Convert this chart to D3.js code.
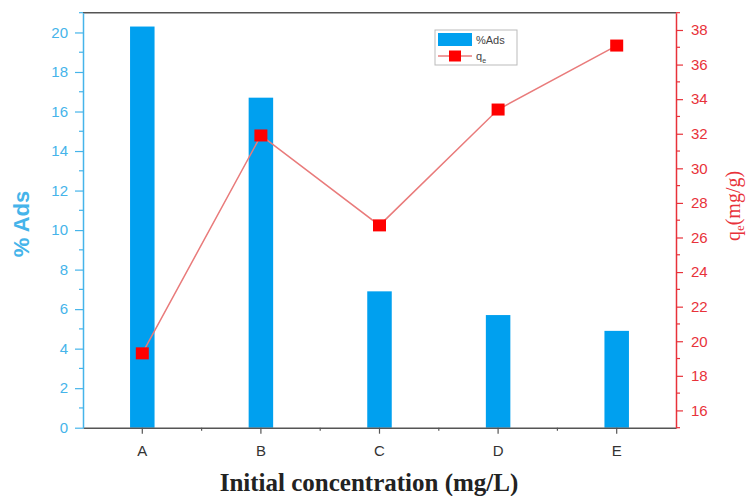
<!DOCTYPE html>
<html>
<head>
<meta charset="utf-8">
<script src="https://cdn.jsdelivr.net/npm/d3@7"></script>
<style>
  body { margin: 0; background: #fff; }
</style>
</head>
<body>
<svg id="chart"></svg>
<script>
// chart data
const categories = ["A", "B", "C", "D", "E"];
const adsValues = [20.3, 16.7, 6.9, 5.7, 4.9];
const qeValues = [19.3, 31.9, 26.7, 33.4, 37.1];
const leftTicks = [0, 2, 4, 6, 8, 10, 12, 14, 16, 18, 20];
const rightTicks = [16, 18, 20, 22, 24, 26, 28, 30, 32, 34, 36, 38];

const width = 747, height = 496;
const plotLeft = 83, plotRight = 676, plotTop = 12.7, plotBottom = 427.7;
const blue = "#00a0ef", blueText = "#45b4ea";
const red = "#e8323a";

const svg = d3.select("#chart").attr("width", width).attr("height", height);

const x = d3.scaleBand().domain(categories).range([plotLeft, plotRight]);
const yL = d3.scaleLinear().domain([0, 21]).range([plotBottom, plotTop]);
const yR = d3.scaleLinear().domain([15, 39]).range([plotBottom, plotTop]);

// bars
const barW = 24.5;
svg.selectAll(".bar")
   .data(categories)
   .enter()
   .append("rect")
   .attr("x", (d, i) => x(d) + x.bandwidth() / 2 - barW / 2)
   .attr("y", (d, i) => yL(adsValues[i]))
   .attr("width", barW)
   .attr("height", (d, i) => plotBottom - yL(adsValues[i]))
   .attr("fill", blue);

// frame top
svg.append("line").attr("x1", plotLeft).attr("x2", plotRight).attr("y1", plotTop).attr("y2", plotTop)
   .attr("stroke", "#555").attr("stroke-width", 1.5);

// x axis
const xAxis = svg.append("g")
   .attr("transform", `translate(0, ${plotBottom})`)
   .call(d3.axisBottom(x).tickSize(6).tickSizeOuter(0));
xAxis.select(".domain").attr("stroke", "#555").attr("stroke-width", 1.5);
xAxis.selectAll(".tick line").attr("stroke", "#555").attr("stroke-width", 1.2);
xAxis.selectAll(".tick text").attr("fill", "#333").attr("font-size", 15)
   .attr("font-family", "Liberation Sans, Arial, sans-serif").attr("dy", "1.3em");
// minor ticks at band edges
svg.append("g").selectAll("line")
   .data(categories.slice(1))
   .enter()
   .append("line")
   .attr("x1", d => x(d)).attr("x2", d => x(d))
   .attr("y1", plotBottom).attr("y2", plotBottom + 3)
   .attr("stroke", "#555").attr("stroke-width", 1.2);

// left axis
const lAxis = svg.append("g")
   .attr("transform", `translate(${plotLeft}, 0)`)
   .call(d3.axisLeft(yL).tickValues(leftTicks).tickSize(8).tickSizeOuter(0).tickPadding(7));
lAxis.select(".domain").attr("stroke", blueText).attr("stroke-width", 1.5);
lAxis.selectAll(".tick line").attr("stroke", blueText).attr("stroke-width", 1.2);
lAxis.selectAll(".tick text").attr("fill", blueText).attr("font-size", 15)
   .attr("font-family", "Liberation Sans, Arial, sans-serif");
lAxis.selectAll(".minor")
   .data(leftTicks.map(v => v + 1))
   .enter()
   .append("line")
   .attr("class", "minor")
   .attr("x1", 0).attr("x2", -4)
   .attr("y1", d => yL(d)).attr("y2", d => yL(d))
   .attr("stroke", blueText).attr("stroke-width", 1.2);

// right axis
const rAxis = svg.append("g")
   .attr("transform", `translate(${plotRight}, 0)`)
   .call(d3.axisRight(yR).tickValues(rightTicks).tickSize(7).tickSizeOuter(0).tickPadding(8));
rAxis.select(".domain").attr("stroke", red).attr("stroke-width", 1.5);
rAxis.selectAll(".tick line").attr("stroke", red).attr("stroke-width", 1.2);
rAxis.selectAll(".tick text").attr("fill", red).attr("font-size", 15)
   .attr("font-family", "Liberation Sans, Arial, sans-serif");
rAxis.selectAll(".minor")
   .data(rightTicks.map(v => v - 1).concat([39]))
   .enter()
   .append("line")
   .attr("class", "minor")
   .attr("x1", 0).attr("x2", 4)
   .attr("y1", d => yR(d)).attr("y2", d => yR(d))
   .attr("stroke", red).attr("stroke-width", 1.2);

// qe line and markers
const line = d3.line()
   .x((d, i) => x(categories[i]) + x.bandwidth() / 2)
   .y(d => yR(d));
svg.append("path")
   .datum(qeValues)
   .attr("d", line)
   .attr("fill", "none")
   .attr("stroke", "#e97b7b")
   .attr("stroke-width", 1.5);
svg.selectAll(".marker")
   .data(qeValues)
   .enter()
   .append("rect")
   .attr("class", "marker")
   .attr("x", (d, i) => x(categories[i]) + x.bandwidth() / 2 - 6.5)
   .attr("y", d => yR(d) - 6)
   .attr("width", 13)
   .attr("height", 12)
   .attr("fill", "#ff0000");

// axis titles
svg.append("text")
   .attr("transform", "translate(29, 224) rotate(-90)")
   .attr("text-anchor", "middle")
   .attr("font-family", "Liberation Sans, Arial, sans-serif")
   .attr("font-weight", "bold")
   .attr("font-size", 22)
   .attr("fill", blueText)
   .text("% Ads");

const rTitle = svg.append("text")
   .attr("transform", "translate(740, 206) rotate(-90)")
   .attr("text-anchor", "middle")
   .attr("font-family", "Liberation Serif, Times New Roman, serif")
   .attr("font-size", 20)
   .attr("fill", red);
rTitle.append("tspan").text("q");
rTitle.append("tspan").attr("font-size", 13).attr("dy", 4).text("e");
rTitle.append("tspan").attr("dy", -4).text("(mg/g)");

svg.append("text")
   .attr("x", 369)
   .attr("y", 491)
   .attr("text-anchor", "middle")
   .attr("font-family", "Liberation Serif, Times New Roman, serif")
   .attr("font-weight", "bold")
   .attr("font-size", 25)
   .attr("fill", "#222")
   .text("Initial concentration (mg/L)");

// legend
const legend = svg.append("g").attr("transform", "translate(435, 30)");
legend.append("rect")
   .attr("width", 82).attr("height", 35)
   .attr("fill", "#fff").attr("stroke", "#bbb").attr("stroke-width", 1);
legend.append("rect")
   .attr("x", 3).attr("y", 3).attr("width", 34).attr("height", 13)
   .attr("fill", blue);
legend.append("text")
   .attr("x", 41).attr("y", 14)
   .attr("font-family", "Liberation Sans, Arial, sans-serif")
   .attr("font-size", 11).attr("fill", "#444")
   .text("%Ads");
legend.append("line")
   .attr("x1", 3).attr("x2", 37).attr("y1", 26).attr("y2", 26)
   .attr("stroke", "#e97b7b").attr("stroke-width", 1.5);
legend.append("rect")
   .attr("x", 14).attr("y", 20.5).attr("width", 12).attr("height", 11)
   .attr("fill", "#ff0000");
const legQ = legend.append("text")
   .attr("x", 41).attr("y", 30)
   .attr("font-family", "Liberation Sans, Arial, sans-serif")
   .attr("font-size", 11).attr("fill", "#444");
legQ.append("tspan").text("q");
legQ.append("tspan").attr("font-size", 7).attr("dy", 3).text("e");
</script>
</body>
</html>
